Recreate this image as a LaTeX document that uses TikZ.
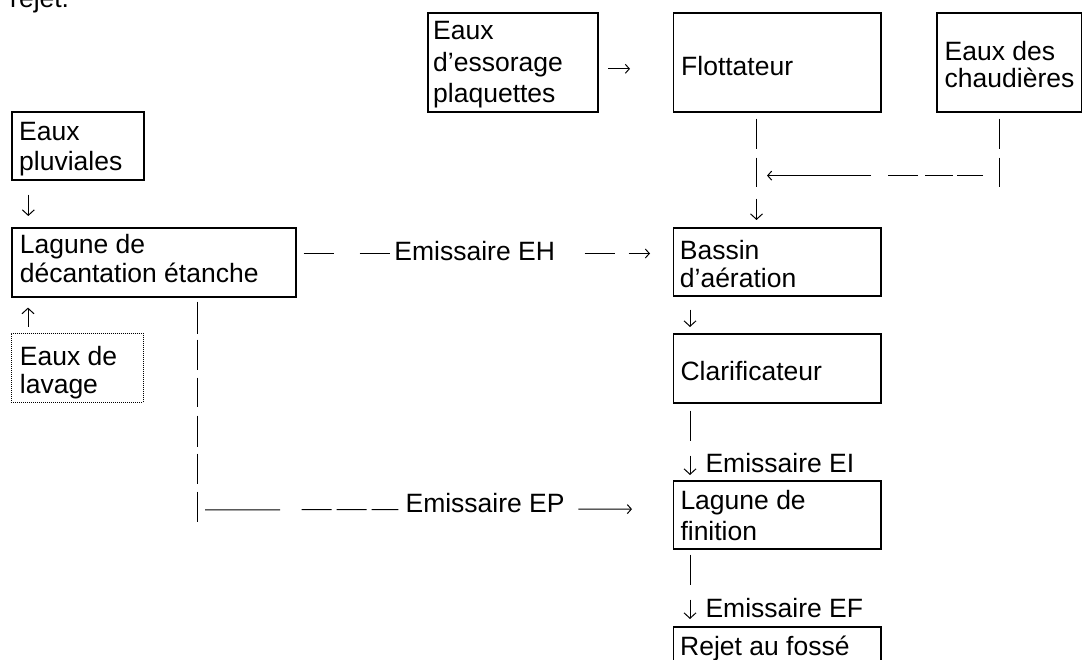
\documentclass[tikz,border=0pt]{standalone}
\usepackage{fontspec}
\setmainfont{Liberation Sans}
\usetikzlibrary{arrows.meta,calc}
\begin{document}
\begin{tikzpicture}[x=1pt,y=-1pt,
  box/.style={draw, line width=1.6pt, inner sep=0pt, anchor=north west},
  dotbox/.style={draw, line width=0.9pt, dash pattern=on 1pt off 1pt, inner sep=0pt, anchor=north west},
  txt/.style={anchor=north west, inner sep=0pt, align=left,
    font=\fontsize{26.5}{#1}\selectfont, execute at begin node={\rule{0pt}{20pt}}},
  txt/.default=29.5,
  conn/.style={line width=1pt},
  vtip/.style={-{Straight Barb[length=5.5pt,width=12pt,line width=1pt]}},
  htip/.style={-{Straight Barb[length=4pt,width=9pt,line width=1pt]}},
  lab/.style={inner sep=0pt, font=\fontsize{26.5}{29.5}\selectfont}]
\useasboundingbox (0,0) rectangle (1082,660);
\clip (0,0) rectangle (1082,660);
\fill[white] (0,0) rectangle (1082,660);

% boxes
\node[box, minimum width=132pt, minimum height=68pt] (pluv) at (11,111) {};
\node[box, minimum width=170pt, minimum height=99pt] (essor) at (427,12) {};
\node[box, minimum width=207.5pt, minimum height=99pt] (flott) at (672.5,12) {};
\node[box, minimum width=145pt, minimum height=99pt] (chaud) at (936,12) {};
\node[box, minimum width=284pt, minimum height=69pt] (lagune) at (11,227) {};
\node[dotbox, minimum width=132pt, minimum height=69pt] (lavage) at (11,333) {};
\node[box, minimum width=207.5pt, minimum height=68pt] (bassin) at (672.5,227) {};
\node[box, minimum width=207.5pt, minimum height=69pt] (clar) at (672.5,333) {};
\node[box, minimum width=207.5pt, minimum height=68pt] (finition) at (672.5,480) {};
\node[box, minimum width=207.5pt, minimum height=80pt] (rejet) at (672.5,626) {};

% texts
\node[txt] (trejet) at (10,-13) {rejet.};
\node[txt=30] (tpluv) at (19,122.5) {Eaux\\pluviales};
\node[txt=31.5] (tessor) at (433,21.5) {Eaux\\d’essorage\\plaquettes};
\node[txt] (tflott) at (681,55) {Flottateur};
\node[txt=27.5] (tchaud) at (944.5,41) {Eaux des\\chaudières};
\node[txt=29] (tlagune) at (19.7,234) {Lagune de\\décantation étanche};
\node[txt=28.5] (tlavage) at (19.7,346) {Eaux de\\lavage};
\node[txt=28] (tbassin) at (679.7,240) {Bassin\\d’aération};
\node[txt] (tclar) at (680.4,360) {Clarificateur};
\node[txt=31] (tfinition) at (680.3,490) {Lagune de\\finition};
\node[txt] (trejetf) at (680,635) {Rejet au fossé};

% junction points
\coordinate (j1) at ($(flott.south west)+(84,63)$);
\coordinate (j2) at ($(lagune.south west)+(186,212.3)$);

% connectors
\draw[conn,vtip] ($(pluv.south west)+(17.3,14)$) -- ($(lagune.north west)+(17.3,-11)$);
\draw[conn,vtip] ($(lavage.north west)+(17,-6)$) -- ($(lagune.south west)+(17,10)$);
\draw[conn,htip] ($(essor.east)+(9.7,6.5)$) -- ($(flott.west)+(-42.5,6.5)$);
\draw[conn,vtip,dash pattern=on 30pt off 9pt on 29pt off 12pt on 23pt]
  ($(flott.south west)+(84,6)$) -- ($(bassin.north west)+(84,-7)$);
\draw[conn,dash pattern=on 30pt off 9pt on 29pt]
  ($(chaud.south west)+(63,6)$) -- ($(chaud.south west)+(63,74)$);
\draw[conn,htip,dash pattern=on 26pt off 4pt on 28pt off 7pt on 30pt off 17pt on 104pt]
  ($(chaud.south west)+(47,63)$) -- ([xshift=10.5pt]j1);
\draw[conn,htip,dash pattern=on 30pt off 26pt on 30pt off 195pt on 30pt off 14pt on 23pt]
  ($(lagune.east)+(7,-8.8)$) -- node[lab,anchor=base,pos=0.494,yshift=-7.3pt] (lEH) {Emissaire EH}
  ($(bassin.west)+(-22.5,-8.3)$);
\draw[conn,dash pattern=on 32pt off 6pt on 30pt off 8pt on 29pt off 9pt on 31pt off 7pt on 30pt off 8pt on 30pt]
  ($(lagune.south west)+(186,4)$) -- ($(lagune.south west)+(186,224)$);
\draw[conn,htip,dash pattern=on 75pt off 21.7pt on 30pt off 5pt on 30pt off 5pt on 26.6pt off 180pt on 53.7pt]
  ([xshift=8pt]j2) -- node[lab,anchor=base,pos=0.656,yshift=-3.4pt] (lEP) {Emissaire EP}
  ($(finition.west)+(-40.5,-5.7)$);
\draw[conn,vtip] ($(bassin.south west)+(17.5,13)$) -- ($(clar.north west)+(17.5,-6)$);
\draw[conn,vtip,dash pattern=on 30pt off 15pt on 20pt]
  ($(clar.south west)+(17.5,7)$) -- ($(finition.north west)+(17.5,-5)$)
  node[lab,anchor=base west,xshift=15pt,yshift=3pt] (lEI) {Emissaire EI};
\draw[conn,vtip,dash pattern=on 30pt off 15pt on 20pt]
  ($(finition.south west)+(17.5,5)$) -- ($(rejet.north west)+(17.5,-7)$)
  node[lab,anchor=base west,xshift=15pt,yshift=2pt] (lEF) {Emissaire EF};
\end{tikzpicture}
\end{document}
